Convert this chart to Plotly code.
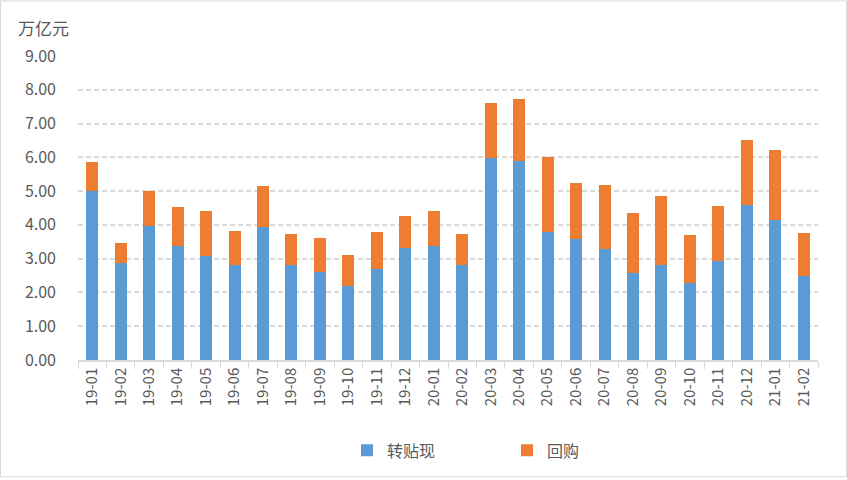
import plotly.graph_objects as go

months = ["19-01","19-02","19-03","19-04","19-05","19-06","19-07","19-08","19-09","19-10","19-11","19-12",
          "20-01","20-02","20-03","20-04","20-05","20-06","20-07","20-08","20-09","20-10","20-11","20-12",
          "21-01","21-02"]
discount = [5.00,2.87,3.96,3.38,3.09,2.80,3.94,2.80,2.61,2.18,2.68,3.32,
            3.38,2.82,5.97,5.88,3.79,3.59,3.29,2.59,2.82,2.29,2.94,4.59,
            4.15,2.50]
total = [5.87,3.46,4.99,4.52,4.40,3.81,5.14,3.73,3.61,3.11,3.78,4.26,
         4.40,3.73,7.61,7.72,6.00,5.23,5.17,4.34,4.87,3.70,4.55,6.52,
         6.23,3.76]
repo = [round(t - d, 2) for t, d in zip(total, discount)]
y_ticks = [0,1,2,3,4,5,6,7,8,9]

W, H = 847, 480
L, R, T, B = 78, 29, 56, 118
pw, ph = W - L - R, H - T - B

font_fam = "Noto Sans CJK SC, Noto Sans, sans-serif"
txt = "#595959"

fig = go.Figure()
fig.add_bar(x=months, y=discount, name="转贴现", marker_color="#5B9BD5", marker_line_width=0)
fig.add_bar(x=months, y=repo, name="回购", marker_color="#ED7D31", marker_line_width=0)

fig.update_layout(
    width=W, height=H,
    barmode="stack", bargap=0.58,
    margin=dict(l=L, r=R, t=T, b=B, pad=0),
    paper_bgcolor="white", plot_bgcolor="white",
    font=dict(family=font_fam, color=txt, size=15),
    showlegend=True,
    legend=dict(orientation="h", x=(347 - L) / pw, xanchor="left", y=-(453 - 362) / ph, yanchor="middle",
                font=dict(size=16, color=txt), entrywidth=115, entrywidthmode="pixels",
                itemwidth=30, traceorder="normal"),
    xaxis=dict(type="category", tickson="boundaries", ticks="outside", ticklen=7,
               tickcolor="#D9D9D9", tickangle=-90, showgrid=False,
               showline=True, linecolor="#D9D9D9", linewidth=1.5,
               tickfont=dict(size=15, color=txt)),
    yaxis=dict(range=[0, 9], tickvals=y_ticks, ticktext=[f"{v:.2f}" for v in y_ticks],
               showgrid=True, gridcolor="#D9D9D9", griddash="5px,3px", gridwidth=1.5,
               zeroline=False, showline=False, ticks="", ticklabelstandoff=21,
               tickfont=dict(size=16, color=txt)),
    annotations=[dict(text="万亿元", xref="paper", yref="paper",
                      x=(16 - L) / pw, y=(362 - 27) / ph, xanchor="left", yanchor="middle",
                      showarrow=False, font=dict(size=17, color=txt))],
    shapes=[dict(type="rect", xref="paper", yref="paper",
                 x0=(0.5 - L) / pw, x1=(846.5 - L) / pw,
                 y0=(362 - 479.5) / ph, y1=(362 - 0.5) / ph,
                 line=dict(color="#D9D9D9", width=1), fillcolor="rgba(0,0,0,0)", layer="below")],
)

fig.write_html("out.html", config={"displayModeBar": False},
               post_script="document.body.style.margin='0';document.body.style.overflow='hidden';")
